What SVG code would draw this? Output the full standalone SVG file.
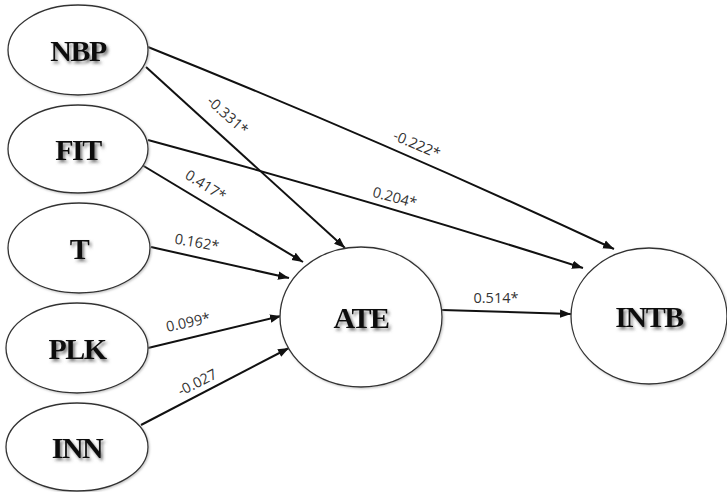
<svg xmlns="http://www.w3.org/2000/svg" width="727" height="492" viewBox="0 0 727 492">
  <defs>
    <marker id="arrow" markerUnits="userSpaceOnUse" markerWidth="12" markerHeight="10" refX="11" refY="5" orient="auto">
      <path d="M0,0.8 L11,5 L0,9.2 Z" fill="#111"/>
    </marker>
    <filter id="shadow" x="-20%" y="-30%" width="140%" height="160%">
      <feDropShadow dx="2" dy="2.5" stdDeviation="1.4" flood-color="#555" flood-opacity="0.75"/>
    </filter>
    <filter id="soft" x="-5%" y="-5%" width="110%" height="110%">
      <feDropShadow dx="1" dy="1" stdDeviation="0.8" flood-color="#999" flood-opacity="0.6"/>
    </filter>
  </defs>
  <style>
    .node ellipse { fill: #fff; stroke: #333; stroke-width: 1.3; }
    .node text { font-family: "Liberation Serif", "Times New Roman", serif; font-weight: bold; font-size: 30px; letter-spacing: -1.5px; fill: #111; text-anchor: middle; dominant-baseline: central; }
    .edge { fill: none; stroke: #111; stroke-width: 2; }
    .lbl { font-family: "Open Sans", "Liberation Sans", sans-serif; font-size: 14.5px; fill: #333; text-anchor: middle; dominant-baseline: central; }
  </style>
  <rect width="727" height="492" fill="#fff"/>

  <!-- paths between constructs -->
  <g id="connectors">
    <path class="edge" d="M148,47 Q380,140 614,249" marker-end="url(#arrow)"/>
    <path class="edge" d="M146,67 L345,248" marker-end="url(#arrow)"/>
    <path class="edge" d="M148,140 Q370,200 583,268" marker-end="url(#arrow)"/>
    <path class="edge" d="M142,165 L303,262" marker-end="url(#arrow)"/>
    <path class="edge" d="M151,247 L289,278" marker-end="url(#arrow)"/>
    <path class="edge" d="M148,348 L281,316" marker-end="url(#arrow)"/>
    <path class="edge" d="M141,425 L289,348" marker-end="url(#arrow)"/>
    <path class="edge" d="M442,310 L571,314" marker-end="url(#arrow)"/>

    <text class="lbl" transform="translate(228,115) rotate(42)">-0.331*</text>
    <text class="lbl" transform="translate(417,144) rotate(23)">-0.222*</text>
    <text class="lbl" transform="translate(206,185) rotate(32)">0.417*</text>
    <text class="lbl" transform="translate(395,197) rotate(15)">0.204*</text>
    <text class="lbl" transform="translate(197,242) rotate(10)">0.162*</text>
    <text class="lbl" transform="translate(188,322) rotate(-12)">0.099*</text>
    <text class="lbl" transform="translate(197,382) rotate(-27)">-0.027</text>
    <text class="lbl" transform="translate(496,297)">0.514*</text>
  </g>

  <g id="NBP" class="node">
    <ellipse cx="78" cy="50" rx="70" ry="45" filter="url(#soft)"/>
    <text x="78" y="50" filter="url(#shadow)">NBP</text>
  </g>
  <g id="FIT" class="node">
    <ellipse cx="78" cy="149" rx="70" ry="44" filter="url(#soft)"/>
    <text x="78" y="149" filter="url(#shadow)">FIT</text>
  </g>
  <g id="T" class="node">
    <ellipse cx="79" cy="248" rx="71" ry="45" filter="url(#soft)"/>
    <text x="79" y="248" filter="url(#shadow)">T</text>
  </g>
  <g id="PLK" class="node">
    <ellipse cx="77" cy="348" rx="71" ry="45" filter="url(#soft)"/>
    <text x="77" y="348" filter="url(#shadow)">PLK</text>
  </g>
  <g id="INN" class="node">
    <ellipse cx="77" cy="447" rx="71" ry="44" filter="url(#soft)"/>
    <text x="77" y="447" filter="url(#shadow)">INN</text>
  </g>
  <g id="ATE" class="node">
    <ellipse cx="361" cy="317" rx="81" ry="70" filter="url(#soft)"/>
    <text x="361" y="317" filter="url(#shadow)">ATE</text>
  </g>
  <g id="INTB" class="node">
    <ellipse cx="649" cy="316" rx="78" ry="68" filter="url(#soft)"/>
    <text x="649" y="316" filter="url(#shadow)">INTB</text>
  </g>
</svg>
